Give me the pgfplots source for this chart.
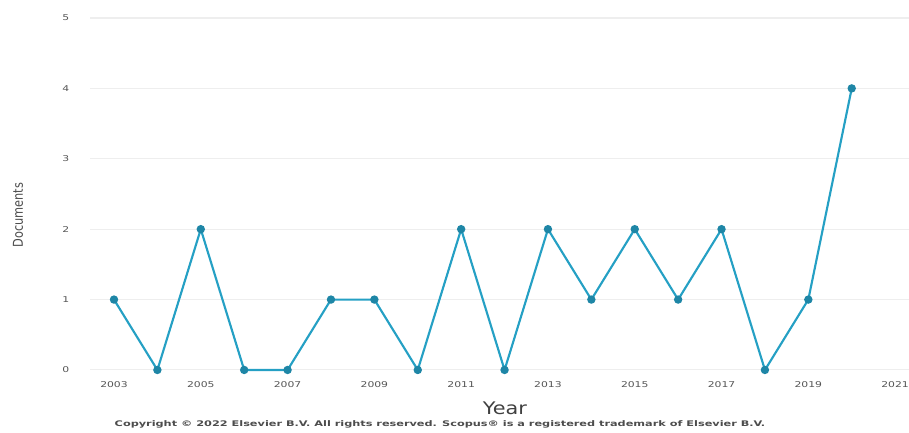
\documentclass[border=0pt]{standalone}
\usepackage{pgfplots}
\pgfplotsset{compat=1.18}
\usepackage{fontspec}
\setmainfont{DejaVu Sans}
\definecolor{linec}{HTML}{25A0C4}
\definecolor{markc}{HTML}{1E86A6}
\definecolor{gridc}{HTML}{EEEEEE}
\definecolor{tickc}{HTML}{555555}
\begin{document}
\begin{tikzpicture}
\begin{axis}[
  at={(0,0)}, anchor=south west,
  width=614.25pt, height=282.45pt, scale only axis,
  xmin=2002.447, xmax=2021.32,
  ymin=-0.1, ymax=5.25,
  axis line style={draw=none},
  major tick length=0pt,
  xtick={2003,2005,...,2021},
  ytick={0,1,2,3,4,5},
  ymajorgrids, grid style={gridc, line width=0.8pt},
  /pgf/number format/assume math mode=true,
  /pgf/number format/1000 sep={},
  tick label style={font=\fontsize{6}{7}\selectfont, text=tickc, xscale=1.35},
  xticklabel style={anchor=center, yshift=-5.5pt},
  yticklabel style={anchor=center, xshift=-13.5pt},
  clip=false,
]
\addplot[color=linec, line width=1.6pt, mark=*, mark size=2.3pt, mark options={fill=markc, draw=markc}]
coordinates {
(2003,1) (2004,0) (2005,2) (2006,0) (2007,0) (2008,1) (2009,1) (2010,0) (2011,2)
(2012,0) (2013,2) (2014,1) (2015,2) (2016,1) (2017,2) (2018,0) (2019,1) (2020,4)
};
\end{axis}
\node[font=\fontsize{13}{14}\selectfont, text=black!75, xscale=1.2] at (311.25pt,-23.25pt) {Year};
\node[font=\bfseries\fontsize{5.8}{6}\selectfont, text=black!70, xscale=1.46] at (262.5pt,-35.5pt) {Copyright © 2022 Elsevier B.V. All rights reserved. Scopus® is a registered trademark of Elsevier B.V.};
\node[font=\fontsize{8.5}{10}\selectfont, text=black!70, rotate=90, yscale=1.2] at (-54pt,121.5pt) {Documents};
\pgfresetboundingbox
\path[use as bounding box] (-67.5pt,-41.25pt) rectangle (614.25pt,282.75pt);
\end{tikzpicture}
\end{document}
